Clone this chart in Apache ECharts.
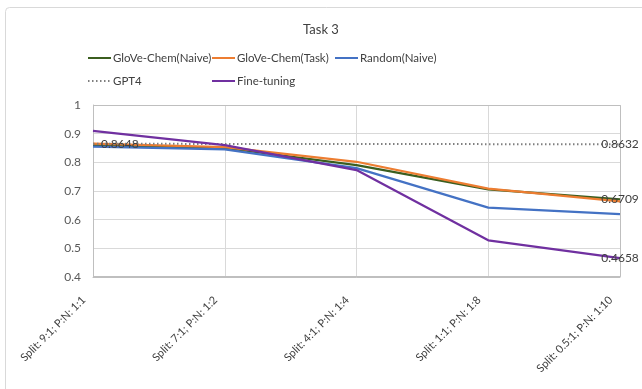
<!DOCTYPE html>
<html>
<head>
<meta charset="utf-8">
<script src="https://cdn.jsdelivr.net/npm/echarts@6/dist/echarts.min.js"></script>
<style>
  html, body { margin: 0; padding: 0; background: #fff; }
  #main { width: 642px; height: 389px; }
</style>
</head>
<body>
<div id="main"></div>
<script>
var categories = ['Split: 9:1; P:N: 1:1', 'Split: 7:1; P:N: 1:2', 'Split: 4:1; P:N: 1:4',
                  'Split: 1:1; P:N: 1:8', 'Split: 0.5:1; P:N: 1:10'];
var gloveNaive = [0.860, 0.850, 0.790, 0.706, 0.6709];
var gloveTask = [0.865, 0.853, 0.802, 0.708, 0.664];
var randomNaive = [0.855, 0.845, 0.780, 0.642, 0.619];
var gpt4 = [0.8648, 0.8642, 0.8638, 0.8635, 0.8632];
var fineTuning = [0.910, 0.860, 0.773, 0.528, 0.4658];

var chart = echarts.init(document.getElementById('main'));
var font = 'Lato, "Open Sans", sans-serif';

function lineSeries(name, data, color, extra) {
    var s = {
        name: name,
        type: 'line',
        data: data,
        symbol: 'circle',
        symbolSize: 0,
        showSymbol: true,
        lineStyle: { color: color, width: 2.25 },
        itemStyle: { color: color },
        z: 3
    };
    for (var k in extra) s[k] = extra[k];
    return s;
}

function valueLabel(pos, dist) {
    return {
        show: true, position: pos, distance: dist, color: '#404040', fontSize: 12, fontFamily: font,
        formatter: function (p) { return p.value.toFixed(4); }
    };
}

function withEndLabels(data, first) {
    return data.map(function (v, i) {
        if (i === data.length - 1) return { value: v, label: valueLabel('inside', 0) };
        if (first && i === 0) return { value: v, label: valueLabel('right', 8) };
        return v;
    });
}

function oneLegend(name, left, top) {
    return {
        data: [name],
        left: left,
        top: top,
        itemWidth: 23,
        itemHeight: 10,
        itemGap: 0,
        itemStyle: { opacity: 0 },
        textStyle: { color: '#404040', fontSize: 11.5, fontFamily: font, padding: [0, 0, 0, -3] },
        selectedMode: false
    };
}

var option = {
    backgroundColor: '#fff',
    animation: false,
    title: {
        text: 'Task 3',
        left: 'center',
        top: 18,
        textStyle: { color: '#404040', fontSize: 13, fontWeight: 'normal', fontFamily: font }
    },
    legend: [
        oneLegend('GloVe-Chem(Naive)', 82, 47),
        oneLegend('GloVe-Chem(Task)', 206, 47),
        oneLegend('Random(Naive)', 329, 47),
        oneLegend('GPT4', 82, 70),
        oneLegend('Fine-tuning', 206, 70)
    ],
    grid: { left: 93, right: 22, top: 105, bottom: 112 },
    xAxis: {
        type: 'category',
        data: categories,
        boundaryGap: false,
        axisLine: { lineStyle: { color: '#bfbfbf' } },
        axisTick: { show: false },
        splitLine: { show: true, lineStyle: { color: '#d9d9d9' } },
        axisLabel: {
            rotate: 45, color: '#404040', fontSize: 11, fontFamily: font,
            margin: 12, padding: [0, 13, 0, 0]
        }
    },
    yAxis: {
        type: 'value',
        min: 0.4,
        max: 1,
        interval: 0.1,
        axisLine: { show: true, lineStyle: { color: '#bfbfbf' } },
        axisTick: { show: false },
        splitLine: { lineStyle: { color: '#d9d9d9' } },
        axisLabel: {
            color: '#595959', fontSize: 12, fontFamily: font, margin: 12,
            formatter: function (v) { return Math.round(v * 10) / 10 + ''; }
        }
    },
    graphic: [
        { type: 'rect', shape: { x: 5.5, y: 7.5, width: 680, height: 400, r: 4 },
          style: { fill: 'none', stroke: '#d9d9d9', lineWidth: 1 }, silent: true, z: -1 },
        { type: 'rect', shape: { x: 93.5, y: 105.5, width: 527, height: 171 },
          style: { fill: 'none', stroke: '#bfbfbf', lineWidth: 1 }, silent: true, z: 1 }
    ],
    series: [
        lineSeries('GloVe-Chem(Naive)', withEndLabels(gloveNaive, false), '#3b5e1f'),
        lineSeries('GloVe-Chem(Task)', gloveTask, '#ed7d31'),
        lineSeries('Random(Naive)', randomNaive, '#4472c4'),
        lineSeries('GPT4', withEndLabels(gpt4, true), '#7f7f7f',
            { lineStyle: { color: '#7f7f7f', width: 2, type: [1.5, 2.5] } }),
        lineSeries('Fine-tuning', withEndLabels(fineTuning, false), '#7030a0')
    ]
};

chart.setOption(option);
</script>
</body>
</html>
